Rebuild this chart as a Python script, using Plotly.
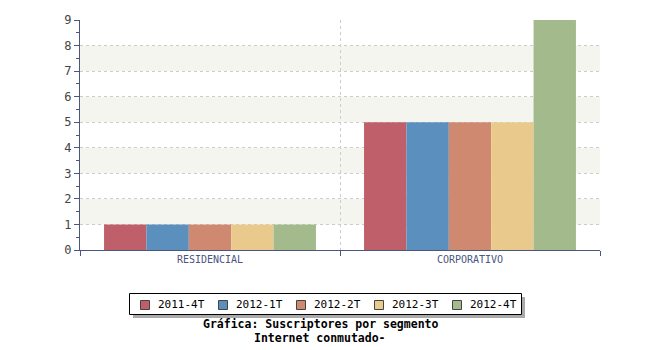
import plotly.graph_objects as go

categories = ["RESIDENCIAL", "CORPORATIVO"]
series_names = ["2011-4T", "2012-1T", "2012-2T", "2012-3T", "2012-4T"]
series_values = [
    [1, 5],
    [1, 5],
    [1, 5],
    [1, 5],
    [1, 9],
]
colors = ["#be5f69", "#5b8fbe", "#cf8970", "#eaca8c", "#a3bb8c"]
title_lines = ["Gráfica: Suscriptores por segmento", "Internet conmutado-"]

axis_col = "#4a5580"
font_mono = "DejaVu Sans Mono"

# plot area in pixels
PL, PR, PT, PB = 80, 600, 20, 250


def px(x):
    return (x - PL) / (PR - PL)


def py(y):
    return (PB - y) / (PB - PT)


fig = go.Figure()
for name, vals, col in zip(series_names, series_values, colors):
    fig.add_trace(go.Bar(name=name, x=categories, y=vals, showlegend=False,
                         marker=dict(color=col, line=dict(width=0))))

shapes = []
annotations = []
for lo in [1, 3, 5, 7]:
    shapes.append(dict(type="rect", xref="paper", yref="y", x0=0, x1=1, y0=lo, y1=lo + 1,
                       fillcolor="#f5f5f0", line=dict(width=0), layer="below"))

# custom legend: shadow, box, swatches, labels
shapes.append(dict(type="rect", xref="paper", yref="paper",
                   x0=px(133), x1=px(525), y0=py(318), y1=py(297),
                   fillcolor="#aaaaaa", line=dict(width=0), layer="above"))
shapes.append(dict(type="rect", xref="paper", yref="paper",
                   x0=px(129.5), x1=px(521.5), y0=py(314.5), y1=py(293.5),
                   fillcolor="white", line=dict(width=1, color="#000000"), layer="above"))
for i, (name, col) in enumerate(zip(series_names, colors)):
    sx = 140 + 78 * i
    shapes.append(dict(type="rect", xref="paper", yref="paper",
                       x0=px(sx + 0.5), x1=px(sx + 9.5), y0=py(309.5), y1=py(300.5),
                       fillcolor=col, line=dict(width=1, color="#444444"), layer="above"))
    annotations.append(dict(text=name, xref="paper", yref="paper",
                            x=px(sx + 16), y=py(304.5), xanchor="left", yanchor="middle",
                            showarrow=False,
                            font=dict(family=font_mono, size=11, color="#000000")))

for k, line in enumerate(title_lines):
    annotations.append(dict(text="<b>" + line + "</b>", xref="paper", yref="paper",
                            x=px(320), y=py(324 + 14 * k), xanchor="center", yanchor="middle",
                            showarrow=False,
                            font=dict(family=font_mono, size=11.5, color="#000000")))

fig.update_layout(
    width=650, height=350,
    margin=dict(l=PL, r=650 - PR, t=PT, b=350 - PB),
    paper_bgcolor="white", plot_bgcolor="white",
    barmode="group", bargap=0.185, bargroupgap=0,
    font=dict(family=font_mono, size=11, color="#333333"),
    shapes=shapes,
    annotations=annotations,
    showlegend=False,
    xaxis=dict(type="category", range=[-0.5, 1.5], tickson="boundaries",
               ticks="outside", ticklen=5, tickcolor=axis_col,
               showline=True, linecolor=axis_col, linewidth=1,
               showgrid=True, gridcolor="#cccccc", griddash="dot", gridwidth=1,
               tickfont=dict(family=font_mono, size=10, color=axis_col),
               zeroline=False, fixedrange=True),
    yaxis=dict(range=[0, 9], dtick=1, ticks="outside", ticklen=5, tickcolor=axis_col,
               showline=True, linecolor=axis_col, linewidth=1,
               showgrid=True, gridcolor="#cccccc", griddash="dot", gridwidth=1,
               minor=dict(ticks="outside", dtick=0.5, ticklen=3, tickcolor=axis_col, showgrid=False),
               tickfont=dict(family=font_mono, size=12, color="#444444"),
               zeroline=False, fixedrange=True),
)

fig.write_html("out.html")
